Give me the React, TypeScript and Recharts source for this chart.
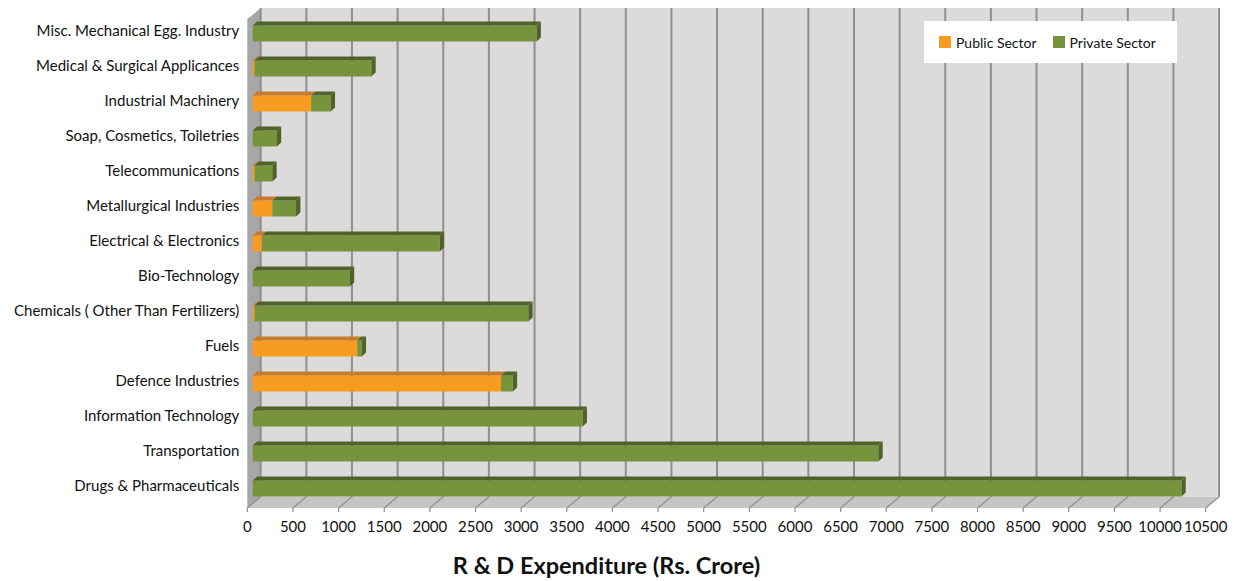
import React from 'react';
import { BarChart, Bar, XAxis, YAxis, Legend, ReferenceArea } from 'recharts';

// ---- data (top to bottom as shown) ----
const categories = [
  'Misc. Mechanical Egg.  Industry',
  'Medical & Surgical  Applicances',
  'Industrial Machinery',
  'Soap, Cosmetics, Toiletries',
  'Telecommunications',
  'Metallurgical  Industries',
  'Electrical & Electronics',
  'Bio-Technology',
  'Chemicals ( Other Than Fertilizers)',
  'Fuels',
  'Defence Industries',
  'Information  Technology',
  'Transportation',
  'Drugs & Pharmaceuticals',
];
const publicSector = [0, 20, 640, 0, 20, 215, 100, 0, 20, 1145, 2720, 0, 0, 0];
const privateSector = [3110, 1280, 215, 265, 195, 260, 1950, 1065, 3000, 50, 130, 3615, 6855, 10175];
const xTicks = [0, 500, 1000, 1500, 2000, 2500, 3000, 3500, 4000, 4500, 5000, 5500, 6000, 6500, 7000, 7500, 8000, 8500, 9000, 9500, 10000, 10500];
const X_MAX = 10500;
const seriesNames = ['Public Sector', 'Private Sector'];

const data = categories.map((c, i) => ({ name: c, pub: publicSector[i], priv: privateSector[i] }));

const FONT = 'Lato, "Open Sans", sans-serif';
const DX = 13.4;
const DY = 11.3;
const FLOOR_GAP = 2.5;
const WALL_TOP_GAP = 7.5;
const BAR_DX = 5.4;
const BDX = 4.3;
const BDY = 4;

const Room = (props: any) => {
  const { x, y, width, height } = props;
  const floorY = y + height + FLOOR_GAP;
  const backBottom = floorY - DY;
  const backTop = y - WALL_TOP_GAP;
  const xs = xTicks.map((v) => x + (v / X_MAX) * width);
  return (
    <g>
      <rect x={x + DX} y={backTop} width={width} height={backBottom - backTop} fill="#dcdadb" />
      <polygon
        points={`${x},${backTop + DY} ${x + DX},${backTop} ${x + DX},${backBottom} ${x},${floorY}`}
        fill="#a7a7a9"
      />
      <polygon
        points={`${x},${floorY} ${x + DX},${backBottom} ${x + width + DX},${backBottom} ${x + width},${floorY}`}
        fill="#c5c5c5"
      />
      {xs.map((px, i) => (
        <g key={i}>
          <line x1={px + DX} y1={backTop} x2={px + DX} y2={backBottom} stroke="#8f8f8f" strokeWidth={2} />
          <line x1={px} y1={floorY} x2={px + DX} y2={backBottom} stroke="#8f8f8f" strokeWidth={1.2} />
          <line x1={px} y1={floorY} x2={px} y2={floorY + 4} stroke="#8f8f8f" strokeWidth={1.2} />
        </g>
      ))}
    </g>
  );
};

const makeShape = (front: string, top: string, side: string | null) => (props: any) => {
  const { x, y, width, height } = props;
  if (!width || width <= 0.01) return <g />;
  const x0 = x + BAR_DX;
  const x1 = x0 + width;
  const yt = y;
  const yb = y + height;
  return (
    <g>
      <rect x={x0} y={yt} width={width} height={height} fill={front} />
      <polygon points={`${x0},${yt} ${x0 + BDX},${yt - BDY} ${x1 + BDX},${yt - BDY} ${x1},${yt}`} fill={top} />
      {side && (
        <polygon points={`${x1},${yt} ${x1 + BDX},${yt - BDY} ${x1 + BDX},${yb - BDY} ${x1},${yb}`} fill={side} />
      )}
    </g>
  );
};

const PubShape = makeShape('#f89c21', '#c97b2d', null);
const PrivShape = makeShape('#77933c', '#4f6228', '#4f6228');

const LegendContent = (props: any) => {
  const payload = [...(props.payload || [])].sort(
    (a: any, b: any) => seriesNames.indexOf(a.value) - seriesNames.indexOf(b.value)
  );
  return (
    <div
      style={{
        background: '#ffffff',
        width: 253,
        height: 42,
        display: 'flex',
        alignItems: 'center',
        fontFamily: FONT,
        fontSize: 14,
        color: '#111',
        boxSizing: 'border-box',
        paddingLeft: 15,
      }}
    >
      {payload.map((p: any, i: number) => (
        <div key={i} style={{ display: 'flex', alignItems: 'center', marginRight: 16 }}>
          <span style={{ display: 'inline-block', width: 12, height: 12, background: p.color, marginRight: 5 }} />
          <span>{p.value}</span>
        </div>
      ))}
    </div>
  );
};

export default function App() {
  return (
    <div style={{ width: 1234, height: 581 }}>
      <style>{`body{margin:0}`}</style>
      <BarChart
        width={1234}
        height={581}
        data={data}
        layout="vertical"
        margin={{ top: 15.5, right: 28.3, bottom: 0, left: 7.3 }}
      >
        <XAxis
          type="number"
          domain={[0, X_MAX]}
          ticks={xTicks}
          interval={0}
          axisLine={false}
          tickLine={false}
          tickSize={6}
          tickMargin={10}
          height={75.5}
          tick={{ fill: '#111', fontSize: 15, fontFamily: FONT }}
          label={{
            value: 'R & D Expenditure (Rs. Crore)',
            position: 'insideBottom',
            offset: 7,
            dx: -120,
            style: { fontFamily: FONT, fontWeight: 700, fontSize: 23.5, fill: '#111' },
          }}
        />
        <YAxis
          type="category"
          dataKey="name"
          width={240}
          interval={0}
          axisLine={false}
          tickLine={false}
          tick={{ fill: '#111', fontSize: 15, fontFamily: FONT, dy: -2 }}
        />
        <ReferenceArea x1={0} x2={X_MAX} shape={<Room />} />
        <Legend
          layout="horizontal"
          verticalAlign="middle"
          align="center"
          wrapperStyle={{ position: 'absolute', left: 924, top: 21, width: 253, height: 42 }}
          content={<LegendContent />}
        />
        <Bar dataKey="pub" name={seriesNames[0]} stackId="a" fill="#f89c21" barSize={16} shape={PubShape} isAnimationActive={false} />
        <Bar dataKey="priv" name={seriesNames[1]} stackId="a" fill="#77933c" barSize={16} shape={PrivShape} isAnimationActive={false} />
      </BarChart>
    </div>
  );
}
